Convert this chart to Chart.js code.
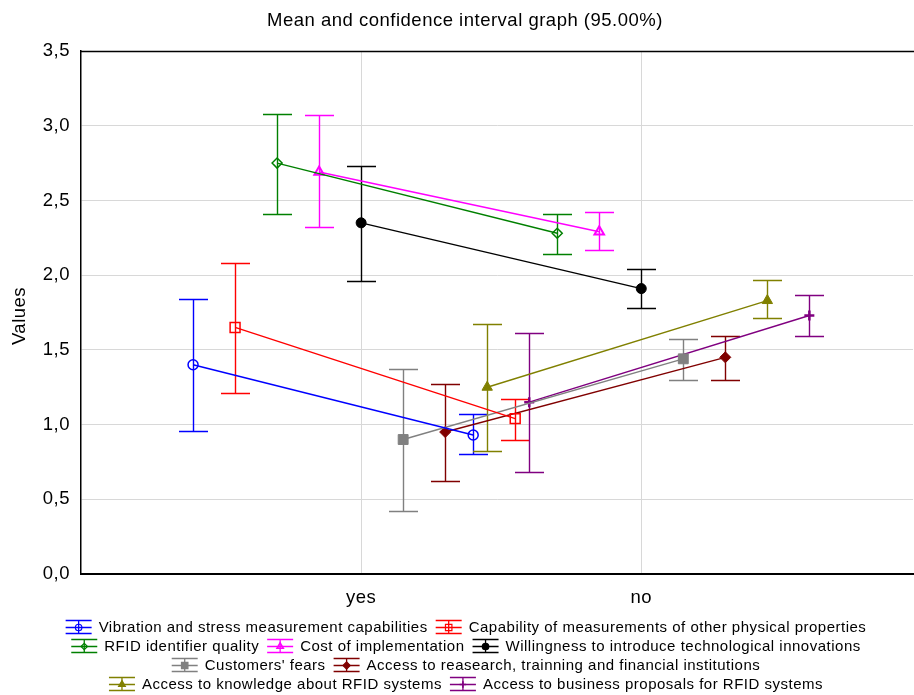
<!DOCTYPE html>
<html><head><meta charset="utf-8">
<script src="https://cdn.jsdelivr.net/npm/chart.js@4/dist/chart.umd.min.js"></script>
<style>html,body{margin:0;padding:0;background:#fff}#wrap{width:914px;height:695px;position:relative}</style>
</head><body><div id="wrap"><canvas id="c" width="914" height="695"></canvas></div>
<script>
// ---- data ----
const categories = ['yes', 'no'];
const seriesNames = [
  'Vibration and stress measurement capabilities',
  'Capability of measurements of other physical properties',
  'RFID identifier quality',
  'Cost of implementation',
  'Willingness to introduce technological innovations',
  "Customers' fears",
  'Access to reasearch, trainning and financial institutions',
  'Access to knowledge about RFID systems',
  'Access to business proposals for RFID systems'
];
const meanYes  = [1.40, 1.65, 2.75, 2.69, 2.35, 0.90, 0.95, 1.25, 1.15];
const lowerYes = [0.96, 1.21, 2.41, 2.32, 1.96, 0.42, 0.62, 0.82, 0.68];
const upperYes = [1.84, 2.08, 3.08, 3.07, 2.73, 1.37, 1.27, 1.67, 1.61];
const meanNo   = [0.93, 1.04, 2.28, 2.29, 1.91, 1.44, 1.45, 1.83, 1.73];
const lowerNo  = [0.80, 0.90, 2.14, 2.17, 1.78, 1.30, 1.30, 1.71, 1.59];
const upperNo  = [1.07, 1.17, 2.41, 2.42, 2.04, 1.57, 1.59, 1.97, 1.87];
const yTicks   = [0, 0.5, 1.0, 1.5, 2.0, 2.5, 3.0, 3.5];

// ---- styles ----
const colors = ['#0000ff','#ff0000','#008000','#ff00ff','#000000','#808080','#800000','#808000','#800080'];
const pStyles = ['circle','rect','rectRot','triangle','circle','rect','rectRot','triangle','cross'];
const pFilled = [false,false,false,false,true,true,true,true,true];
const pRadius = [5,7,5,5.5,5,7,5.5,6,5];
const pBorder = [1.5,1.5,1.5,2,1,1,1,1,2.5];
const legendRows = [[0,1],[2,3,4],[5,6],[7,8]];
const FONT = '"Liberation Sans", Arial, Helvetica, sans-serif';
const SPACING = '0.5px';
const DODGE = 0.15;

const means = [meanYes, meanNo], lows = [lowerYes, lowerNo], highs = [upperYes, upperNo];
const datasets = seriesNames.map((name, i) => ({
  label: name,
  data: categories.map((c, k) => ({ x: k + (i - 4) * DODGE, y: means[k][i], lo: lows[k][i], hi: highs[k][i] })),
  showLine: true,
  borderColor: colors[i],
  borderWidth: 1.4,
  pointStyle: pStyles[i],
  pointRadius: pRadius[i],
  pointBorderWidth: pBorder[i],
  pointBackgroundColor: pFilled[i] ? colors[i] : 'rgba(0,0,0,0)',
  pointBorderColor: colors[i],
  pointHoverRadius: pRadius[i]
}));

const spacing = {
  id: 'spacing',
  beforeUpdate(chart) { chart.ctx.letterSpacing = SPACING; },
  beforeDraw(chart) { chart.ctx.letterSpacing = SPACING; }
};

const errorBars = {
  id: 'errorBars',
  beforeDatasetsDraw(chart) {
    const { ctx, scales: { x, y } } = chart;
    ctx.save();
    chart.data.datasets.forEach(ds => {
      ds.data.forEach(p => {
        const px = Math.round(x.getPixelForValue(p.x)) + 0.5;
        const pt = Math.round(y.getPixelForValue(p.hi)) + 0.5;
        const pb = Math.round(y.getPixelForValue(p.lo)) + 0.5;
        ctx.strokeStyle = ds.borderColor; ctx.lineWidth = 1.4;
        ctx.beginPath();
        ctx.moveTo(px, pt); ctx.lineTo(px, pb);
        ctx.moveTo(px - 14.5, pt); ctx.lineTo(px + 14.5, pt);
        ctx.moveTo(px - 14.5, pb); ctx.lineTo(px + 14.5, pb);
        ctx.stroke();
      });
    });
    ctx.restore();
  }
};

const decor = {
  id: 'decor',
  afterDraw(chart) {
    const { ctx, chartArea } = chart;
    ctx.save();
    ctx.letterSpacing = SPACING;
    // top frame line
    ctx.strokeStyle = '#000'; ctx.lineWidth = 1.5;
    ctx.beginPath(); ctx.moveTo(chartArea.left, chartArea.top + 0.5); ctx.lineTo(chartArea.right + 1, chartArea.top + 0.5); ctx.stroke();
    // title
    ctx.fillStyle = '#000';
    ctx.font = '18.5px ' + FONT;
    ctx.textAlign = 'center'; ctx.textBaseline = 'middle';
    ctx.fillText('Mean and confidence interval graph (95.00%)', 465, 21);
    // y axis title
    ctx.save();
    ctx.translate(20, 316); ctx.rotate(-Math.PI / 2);
    ctx.fillText('Values', 0, 0);
    ctx.restore();
    // legend
    ctx.font = '15px ' + FONT;
    ctx.textAlign = 'left';
    const iconW = 26, iconGap = 7, itemGap = 8, rowY0 = 627, rowH = 19;
    legendRows.forEach((row, r) => {
      const widths = row.map(i => iconW + iconGap + ctx.measureText(seriesNames[i]).width);
      const total = widths.reduce((a, b) => a + b, 0) + itemGap * (row.length - 1);
      let xx = 466 - total / 2;
      const yy = rowY0 + r * rowH;
      row.forEach((i, j) => {
        const c = colors[i];
        ctx.strokeStyle = c; ctx.lineWidth = 1.3;
        ctx.beginPath();
        ctx.moveTo(xx, yy - 6.5); ctx.lineTo(xx + iconW, yy - 6.5);
        ctx.moveTo(xx, yy + 6.5); ctx.lineTo(xx + iconW, yy + 6.5);
        ctx.moveTo(xx, yy + 0.5); ctx.lineTo(xx + iconW, yy + 0.5);
        ctx.moveTo(xx + iconW / 2, yy - 6.5); ctx.lineTo(xx + iconW / 2, yy + 6.5);
        ctx.stroke();
        ctx.fillStyle = pFilled[i] ? c : 'rgba(0,0,0,0)';
        ctx.lineWidth = pBorder[i] > 1.5 ? 1.6 : 1.2;
        Chart.helpers.drawPoint(ctx, { pointStyle: pStyles[i], rotation: 0, radius: pRadius[i] * 0.65, borderWidth: 1 }, xx + iconW / 2, yy + 0.5);
        ctx.fillStyle = '#000';
        ctx.fillText(seriesNames[i], xx + iconW + iconGap, yy + 1);
        xx += widths[j] + itemGap;
      });
    });
    ctx.restore();
  }
};

new Chart(document.getElementById('c'), {
  type: 'scatter',
  data: { datasets },
  plugins: [spacing, errorBars, decor],
  options: {
    responsive: false,
    animation: false,
    layout: { autoPadding: false, padding: { top: 51, left: 0, right: 1, bottom: 81 } },
    plugins: { legend: { display: false }, title: { display: false }, tooltip: { enabled: false } },
    scales: {
      x: {
        type: 'linear', min: -1, max: 1.97,
        afterBuildTicks: s => { s.ticks = categories.map((c, k) => ({ value: k })); },
        afterFit: s => { s.height = 40; s.paddingLeft = 0; s.paddingRight = 0; },
        ticks: { callback: v => categories[v] ?? '', color: '#000', font: { family: FONT, size: 18.5 }, padding: 13, maxRotation: 0, autoSkip: false },
        grid: { color: '#d8d8d8', lineWidth: 1, drawTicks: false },
        border: { color: '#000', width: 2 }
      },
      y: {
        min: 0, max: 3.5,
        afterBuildTicks: s => { s.ticks = yTicks.map(v => ({ value: v })); },
        afterFit: s => { s.width = 81; s.paddingTop = 0; s.paddingBottom = 0; },
        ticks: { callback: v => v.toFixed(1).replace('.', ','), color: '#000', font: { family: FONT, size: 18.5 }, padding: 11 },
        grid: { color: '#d8d8d8', lineWidth: 1, drawTicks: false },
        border: { color: '#000', width: 1.5 },
        title: { display: false }
      }
    }
  }
});
</script>
</body></html>
